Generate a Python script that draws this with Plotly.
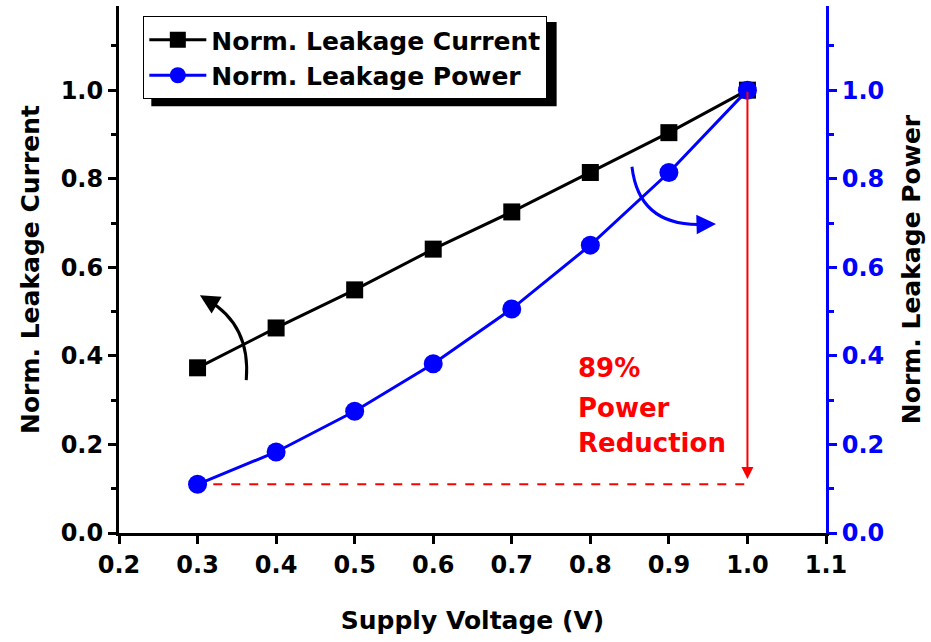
import plotly.graph_objects as go

voltage = [0.3, 0.4, 0.5, 0.6, 0.7, 0.8, 0.9, 1.0]
norm_current = [0.373, 0.463, 0.549, 0.641, 0.725, 0.814, 0.904, 1.0]
norm_power = [0.110, 0.183, 0.275, 0.382, 0.506, 0.650, 0.814, 1.0]
x_ticks = [0.2, 0.3, 0.4, 0.5, 0.6, 0.7, 0.8, 0.9, 1.0, 1.1]
y_ticks = [0.0, 0.2, 0.4, 0.6, 0.8, 1.0]
reduction_lines = ["89%", "Power", "Reduction"]
reduction_y = [0.373, 0.282, 0.203]

FONT = "DejaVu Sans"
YMAX = 1.19

fig = go.Figure()
fig.add_trace(go.Scatter(
    x=voltage, y=norm_current, name="Norm. Leakage Current", mode="lines+markers",
    line=dict(color="black", width=3),
    marker=dict(symbol="square", size=17, color="black"),
    yaxis="y"))
fig.add_trace(go.Scatter(
    x=voltage, y=norm_power, name="Norm. Leakage Power", mode="lines+markers",
    line=dict(color="#0000ff", width=3),
    marker=dict(symbol="circle", size=19, color="#0000ff"),
    yaxis="y2"))

tickfont = dict(family=FONT, size=24, color="black", weight="bold")
titlefont = dict(family=FONT, size=25, color="black", weight="bold")
fig.update_layout(
    width=931, height=642,
    margin=dict(l=119, r=105, t=6, b=109),
    paper_bgcolor="white", plot_bgcolor="white",
    font=dict(family=FONT, color="black"),
    showlegend=True,
    xaxis=dict(range=[0.2, 1.1], tickvals=x_ticks, ticktext=[f"{v:.1f}" for v in x_ticks],
               showgrid=False, zeroline=False, showline=True, linecolor="black", linewidth=3,
               ticks="outside", ticklen=8, tickwidth=3, tickcolor="black",
               tickfont=tickfont,
               title=dict(text="Supply Voltage (V)", font=titlefont, standoff=34)),
    yaxis=dict(range=[0, YMAX], tickvals=y_ticks, ticktext=[f"{v:.1f}" for v in y_ticks],
               showgrid=False, zeroline=False, showline=True, linecolor="black", linewidth=3,
               ticks="outside", ticklen=8, tickwidth=3, tickcolor="black",
               minor=dict(dtick=0.1, tick0=0, ticks="outside", ticklen=5, tickwidth=3, tickcolor="black"),
               tickfont=tickfont,
               title=dict(text="Norm. Leakage Current", font=titlefont, standoff=14)),
    yaxis2=dict(range=[0, YMAX], tickvals=y_ticks, ticktext=[f"{v:.1f}" for v in y_ticks],
                overlaying="y", side="right", anchor="x",
                showgrid=False, zeroline=False, showline=True, linecolor="#0000ff", linewidth=3,
                ticks="outside", ticklen=8, tickwidth=3, tickcolor="#0000ff",
                minor=dict(dtick=0.1, tick0=0, ticks="outside", ticklen=5, tickwidth=3, tickcolor="#0000ff"),
                tickfont=dict(family=FONT, size=24, color="#0000ff", weight="bold"),
                title=dict(text="Norm. Leakage Power", font=titlefont, standoff=20)),
    legend=dict(x=0.0344, y=0.981, xanchor="left", yanchor="top",
                bgcolor="white", bordercolor="black", borderwidth=1,
                font=dict(family=FONT, size=25, color="black", weight="bold"),
                itemwidth=57, tracegroupgap=0),
)

# legend shadow
fig.add_shape(type="rect", xref="paper", yref="paper", layer="below",
              x0=0.0457, x1=0.619, y0=0.810, y1=0.9696,
              fillcolor="black", line=dict(width=0))

# red dashed horizontal line and vertical arrow
fig.add_shape(type="line", xref="x", yref="y2", x0=0.32, x1=1.0,
              y0=norm_power[0], y1=norm_power[0],
              line=dict(color="red", width=2, dash="dash"))
fig.add_annotation(x=1.0, y=norm_power[0] + 0.012, ax=1.0, ay=norm_power[-1],
                   xref="x", yref="y2", axref="x", ayref="y2",
                   showarrow=True, arrowhead=2, arrowsize=1.2, arrowwidth=2, arrowcolor="red", text="")
for line, yy in zip(reduction_lines, reduction_y):
    fig.add_annotation(x=0.782, y=yy, xref="x", yref="y", text=line,
                       showarrow=False, xanchor="left", yanchor="middle", align="left",
                       font=dict(family=FONT, size=26, color="red", weight="bold"))

# curved arrow pointing to left axis (black)
fig.add_shape(type="path", xref="x", yref="y",
              path="M 0.362 0.345 Q 0.368 0.47 0.312 0.527",
              line=dict(color="black", width=3))
fig.add_annotation(x=0.303, y=0.537, ax=0.318, ay=0.521, xref="x", yref="y", axref="x", ayref="y",
                   showarrow=True, arrowhead=2, arrowsize=1.3, arrowwidth=3, arrowcolor="black", text="")

# curved arrow pointing to right axis (blue)
fig.add_shape(type="path", xref="x", yref="y2",
              path="M 0.853 0.827 Q 0.862 0.69 0.945 0.697",
              line=dict(color="#0000ff", width=3))
fig.add_annotation(x=0.960, y=0.698, ax=0.940, ay=0.697, xref="x", yref="y2", axref="x", ayref="y2",
                   showarrow=True, arrowhead=2, arrowsize=1.3, arrowwidth=3, arrowcolor="#0000ff", text="")

fig.write_html("out.html")
